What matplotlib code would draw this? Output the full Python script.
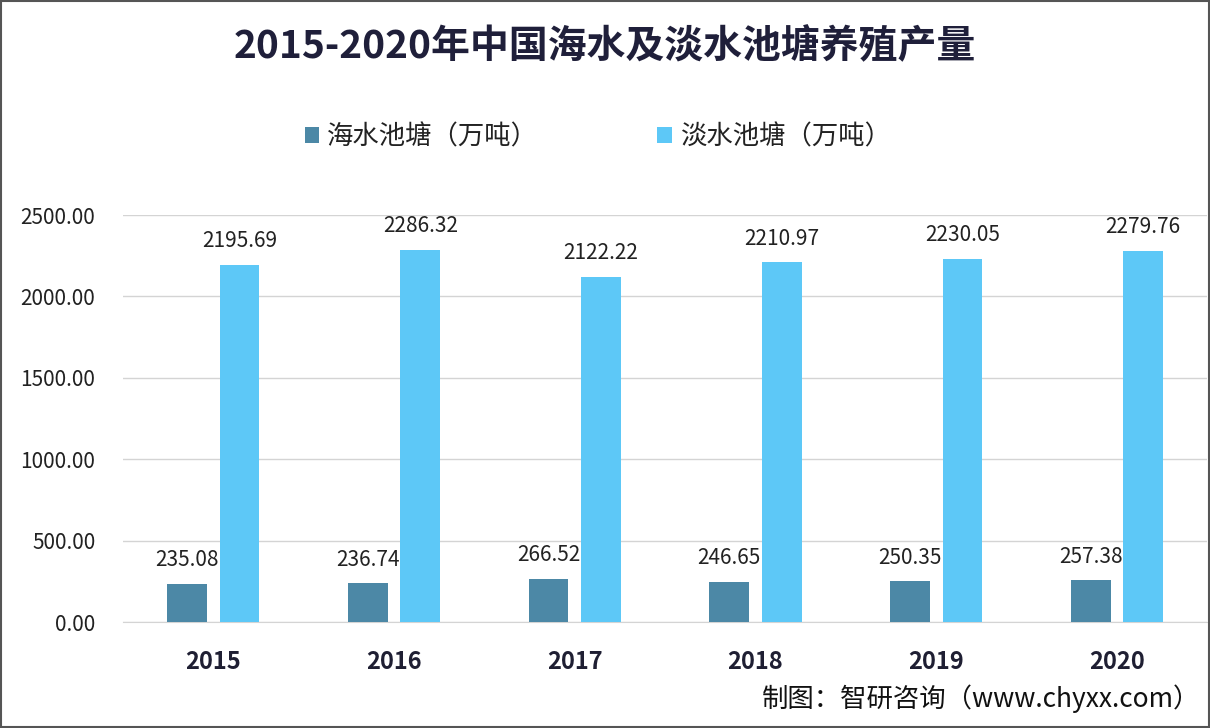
import matplotlib
matplotlib.use("Agg")
import matplotlib.pyplot as plt
import numpy as np
from matplotlib.patches import Rectangle

plt.rcParams['font.family'] = ['Noto Sans CJK SC', 'DejaVu Sans']

years = ['2015', '2016', '2017', '2018', '2019', '2020']
sea_ponds = [235.08, 236.74, 266.52, 246.65, 250.35, 257.38]
fresh_ponds = [2195.69, 2286.32, 2122.22, 2210.97, 2230.05, 2279.76]
yticks = [0, 500, 1000, 1500, 2000, 2500]

dark = '#4c88a6'
light = '#5dc8f7'

fig = plt.figure(figsize=(12.1, 7.28), dpi=100)
fig.patch.set_facecolor('white')
ax = fig.add_axes([0.1017, 0.1456, 0.896, 0.559])

x = np.arange(len(years))
w = 0.22
b1 = ax.bar(x - 0.145, sea_ponds, w, color=dark, label='海水池塘（万吨）', zorder=3)
b2 = ax.bar(x + 0.145, fresh_ponds, w, color=light, label='淡水池塘（万吨）', zorder=3)

for rect, v in zip(b1, sea_ponds):
    ax.annotate(f'{v:.2f}', (rect.get_x() + rect.get_width() / 2, v),
                xytext=(0, 9), textcoords='offset points', ha='center', va='bottom',
                fontsize=15, color='#222222')
for rect, v in zip(b2, fresh_ponds):
    ax.annotate(f'{v:.2f}', (rect.get_x() + rect.get_width() / 2, v),
                xytext=(0, 9), textcoords='offset points', ha='center', va='bottom',
                fontsize=15, color='#222222')

ax.set_xlim(-0.5, len(years) - 0.5)
ax.set_ylim(0, 2500)
ax.set_yticks(yticks)
ax.set_yticklabels([f'{t:.2f}' for t in yticks], fontsize=15, color='#222222')
ax.set_xticks(x)
ax.set_xticklabels(years, fontsize=17, fontweight='bold', color='#1f1f33')
ax.tick_params(axis='both', length=0)
ax.tick_params(axis='x', pad=20)
ax.tick_params(axis='y', pad=20)
ax.yaxis.grid(True, color='#d4d4d4', linewidth=1, zorder=0)
for s in ['top', 'right', 'left']:
    ax.spines[s].set_visible(False)
ax.spines['bottom'].set_color('#d4d4d4')
ax.set_facecolor('none')

fig.text(0.5, 0.936, '2015-2020年中国海水及淡水池塘养殖产量', ha='center', va='center',
         fontsize=28, fontweight='bold', color='#1f1f3a')

leg = fig.legend(loc='center', bbox_to_anchor=(0.494, 0.812), ncol=2, frameon=False,
                 fontsize=19, handlelength=0.55, handleheight=0.55, columnspacing=4.5,
                 handletextpad=0.3)
for t in leg.get_texts():
    t.set_color('#222222')

fig.text(0.992, 0.04, '制图：智研咨询（www.chyxx.com）', ha='right', va='center',
         fontsize=19, color='#111111')

fig.patches.append(Rectangle((0.001, 0.001), 0.998, 0.998, transform=fig.transFigure,
                             fill=False, edgecolor='#555555', linewidth=1.5))

fig.savefig('out.png', dpi=100)
